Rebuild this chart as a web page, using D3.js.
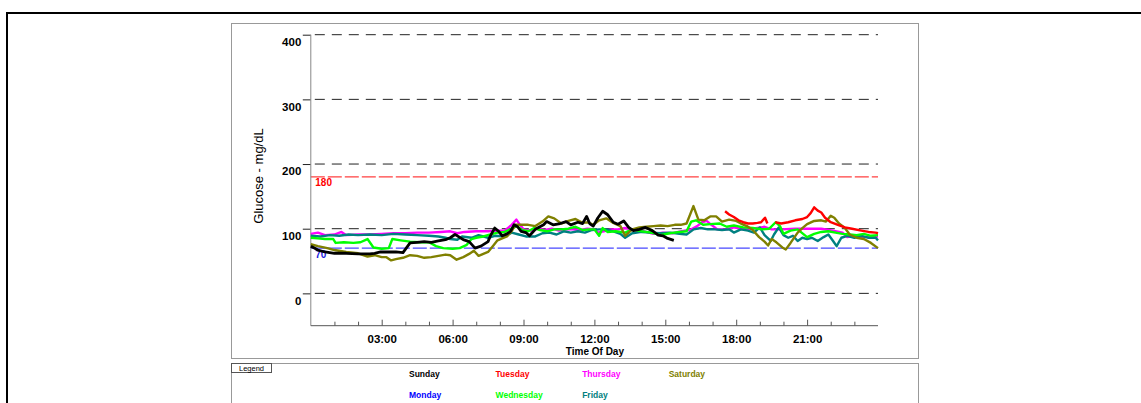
<!DOCTYPE html>
<html>
<head>
<meta charset="utf-8">
<script src="https://cdn.jsdelivr.net/npm/d3@7"></script>
<style>
  body { margin: 0; background: #fff; }
  svg { display: block; }
  text { font-family: "Liberation Sans", Arial, Helvetica, sans-serif; }
</style>
</head>
<body>
<svg id="chart" width="1141" height="403"></svg>
<script>
// ---- Data: glucose readings per weekday, [hour of day, mg/dL] ----
const dayNames  = ["Sunday", "Monday", "Tuesday", "Wednesday", "Thursday", "Friday", "Saturday"];
const dayColors = ["#000000", "#0000ff", "#ff0000", "#00ff00", "#ff00ff", "#008080", "#808000"];
const hourTicks = [3, 6, 9, 12, 15, 18, 21];
const glucoseTicks = [0, 100, 200, 300, 400];
const targetHigh = 180;
const targetLow = 70;

const sunday = [[0.0,73],[0.15,70],[0.3,67],[0.6,64],[1.0,62],[1.5,62],[2.0,61],[2.5,61],[2.7,62],[2.95,64],[3.3,64],[3.6,64],[3.9,63],[4.2,78],[4.5,79],[4.8,80],[5.1,79],[5.4,81],[5.7,83],[5.9,86],[6.1,91],[6.2,89],[6.45,83],[6.7,80],[6.95,70],[7.2,73],[7.5,80],[7.6,89],[7.78,101],[7.95,96],[8.1,89],[8.3,92],[8.45,96],[8.6,106],[8.75,103],[8.9,96],[9.1,94],[9.25,89],[9.5,99],[9.85,106],[9.98,111],[10.25,106],[10.55,108],[10.8,111],[11.0,106],[11.3,110],[11.5,108],[11.67,119],[11.8,108],[11.95,104],[12.15,117],[12.35,127],[12.55,122],[12.8,110],[13.0,107],[13.24,112],[13.45,102],[13.65,97],[13.9,99],[14.16,102],[14.45,97],[14.7,90],[14.9,89],[15.1,85],[15.36,82]];
const monday = [];
const tuesday = [[17.53,127],[17.7,122],[17.9,118],[18.1,113],[18.3,110],[18.5,108],[18.7,108],[18.9,109],[19.05,110],[19.22,117],[19.32,108],[19.45,null],[19.65,110],[19.9,108],[20.2,110],[20.5,113],[20.8,115],[21.0,118],[21.15,124],[21.3,133],[21.45,128],[21.6,125],[21.76,117],[22.0,110],[22.3,106],[22.6,102],[22.9,100],[23.3,97],[23.6,95],[23.9,94],[24.0,93]];
const wednesday = [[0.0,86],[0.3,85],[0.6,84],[0.95,84],[1.05,78],[1.4,79],[1.8,78],[2.1,79],[2.4,84],[2.65,71],[3.0,69],[3.3,70],[3.45,84],[3.8,82],[4.2,80],[4.6,79],[5.0,79],[5.3,73],[5.6,70],[6.0,69],[6.3,70],[6.6,75],[6.8,84],[7.0,86],[7.3,88],[7.6,91],[7.9,94],[8.2,95],[8.5,100],[8.7,104],[8.95,98],[9.2,96],[9.45,101],[9.7,98],[10.0,96],[10.3,99],[10.6,99],[10.9,100],[11.2,103],[11.5,98],[11.8,99],[12.0,99],[12.2,89],[12.35,101],[12.55,95],[12.9,96],[13.3,94],[13.6,99],[14.0,96],[14.4,94],[14.8,90],[15.2,93],[15.6,95],[15.9,96],[16.1,111],[16.3,113],[16.6,106],[16.9,107],[17.3,108],[17.6,103],[17.9,105],[18.3,102],[18.7,101],[19.1,99],[19.4,100],[19.67,110],[19.85,104],[20.0,92],[20.3,97],[20.6,99],[21.0,87],[21.3,92],[21.6,95],[21.9,96],[22.2,94],[22.5,92],[22.8,91],[23.1,90],[23.4,92],[23.7,89],[24.0,90]];
const thursday = [[0.0,92],[0.3,94],[0.6,90],[1.0,91],[1.3,95],[1.5,90],[2.0,91],[2.5,91],[3.0,92],[3.5,93],[4.0,93],[4.5,94],[5.0,94],[5.5,95],[5.9,96],[6.2,93],[6.5,95],[7.0,96],[7.5,96],[7.9,97],[8.2,97],[8.5,106],[8.7,114],[8.85,106],[9.0,99],[9.3,97],[9.6,100],[9.9,98],[10.2,100],[10.5,97],[10.8,99],[11.1,99],[11.4,98],[11.7,100],[12.0,99],[12.15,94],[12.4,96],[12.7,99],[13.0,99],[13.3,101],[13.6,99],[14.0,97],[14.5,92],[14.9,94],[15.3,93],[15.7,96],[16.1,99],[16.35,104],[16.55,110],[16.75,112],[16.95,106],[17.2,99],[17.6,99],[17.9,102],[18.3,99],[18.7,100],[19.2,103],[19.5,99],[19.9,99],[20.5,100],[21.0,100],[21.6,100],[22.1,97],[22.5,94],[22.7,87],[23.0,89],[23.4,87],[24.0,88]];
const friday = [[0.0,89],[0.4,88],[0.8,90],[1.2,89],[1.6,91],[2.0,90],[2.5,91],[3.0,90],[3.5,92],[4.0,91],[4.5,90],[5.0,89],[5.4,88],[5.7,86],[5.9,84],[6.2,83],[6.4,88],[6.8,86],[7.1,90],[7.5,86],[7.8,89],[8.2,88],[8.5,94],[8.8,91],[9.1,88],[9.5,88],[9.8,93],[10.1,94],[10.4,91],[10.7,96],[11.0,94],[11.3,96],[11.6,94],[11.9,98],[12.2,99],[12.5,99],[12.8,96],[13.1,92],[13.3,86],[13.6,93],[14.0,95],[14.4,94],[14.8,93],[15.2,94],[15.6,92],[15.9,91],[16.2,99],[16.5,101],[16.8,99],[17.1,99],[17.4,98],[17.7,99],[17.9,94],[18.2,99],[18.5,97],[18.75,94],[19.0,102],[19.2,90],[19.46,81],[19.6,91],[19.8,102],[20.0,90],[20.2,86],[20.4,89],[20.6,81],[20.8,86],[21.0,84],[21.2,86],[21.45,81],[21.7,87],[21.9,91],[22.1,81],[22.25,73],[22.45,86],[22.7,89],[23.0,86],[23.3,89],[23.6,86],[23.9,86],[24.0,82]];
const saturday = [[0.0,76],[0.3,73],[0.7,70],[1.0,67],[1.5,64],[2.0,62],[2.4,57],[2.7,59],[3.0,56],[3.2,56],[3.4,51],[3.6,53],[3.9,55],[4.2,59],[4.5,58],[4.8,55],[5.1,56],[5.4,58],[5.7,60],[5.9,59],[6.17,52],[6.45,56],[6.7,61],[6.9,66],[7.1,58],[7.3,61],[7.5,64],[7.7,73],[7.9,82],[8.1,85],[8.3,88],[8.5,96],[8.65,106],[8.9,106],[9.2,106],[9.5,104],[9.8,111],[10.05,119],[10.3,116],[10.6,108],[10.9,112],[11.2,115],[11.5,109],[11.75,110],[11.95,106],[12.2,113],[12.5,116],[12.8,109],[13.1,104],[13.3,89],[13.6,99],[13.9,102],[14.2,103],[14.5,104],[14.8,105],[15.1,104],[15.4,106],[15.65,106],[15.9,108],[16.19,135],[16.4,114],[16.65,113],[16.9,119],[17.15,119],[17.4,111],[17.7,114],[18.0,112],[18.2,108],[18.45,104],[18.7,98],[18.97,87],[19.2,80],[19.35,74],[19.5,84],[19.7,79],[19.95,71],[20.1,68],[20.3,78],[20.6,94],[20.8,101],[21.0,107],[21.3,112],[21.6,113],[21.8,111],[22.0,120],[22.15,117],[22.35,108],[22.6,101],[22.8,91],[23.1,86],[23.4,84],[23.7,78],[24.0,70]];

const readingsByDay = [sunday, monday, tuesday, wednesday, thursday, friday, saturday];
// Drawing order: later series sit on top
const drawOrder = [4, 5, 3, 6, 1, 2, 0];

const svg = d3.select("#chart");

// Outer page frame
svg.append("rect")
  .attr("x", 7).attr("y", 13).attr("width", 1160).attr("height", 420)
  .attr("fill", "none").attr("stroke", "#000").attr("stroke-width", 2);

// Chart panel
svg.append("rect")
  .attr("x", 231.5).attr("y", 23.5).attr("width", 687).attr("height", 335)
  .attr("fill", "none").attr("stroke", "#999").attr("stroke-width", 1);

// Scales
const x = d3.scaleLinear().domain([0, 24]).range([310.8, 878]);
const y = d3.scaleLinear().domain([-50, 400]).range([325.7, 34.7]);

// Horizontal dashed grid lines
svg.append("g").selectAll("line")
  .data(glucoseTicks)
  .join("line")
  .attr("x1", x(0)).attr("x2", x(24))
  .attr("y1", d => y(d)).attr("y2", d => y(d))
  .attr("stroke", "#222").attr("stroke-width", 1)
  .attr("stroke-dasharray", "10,7")
  .attr("stroke-dashoffset", -4);

// Target range lines
const targets = [
  { value: targetHigh, color: "#ff4040", label: "180", labelColor: "#ff0000" },
  { value: targetLow,  color: "#4848ff", label: "70",  labelColor: "#2020e0" }
];
svg.append("g").selectAll("line")
  .data(targets)
  .join("line")
  .attr("x1", x(0)).attr("x2", x(24))
  .attr("y1", d => y(d.value)).attr("y2", d => y(d.value))
  .attr("stroke", d => d.color).attr("stroke-width", 1.2)
  .attr("stroke-dasharray", "14,3");
svg.append("g").selectAll("text")
  .data(targets)
  .join("text")
  .attr("x", x(0) + 4.5)
  .attr("y", d => y(d.value) + 9.4)
  .attr("fill", d => d.labelColor)
  .attr("font-size", "10px")
  .attr("font-weight", "bold")
  .text(d => d.label);

// Y axis
const yAxis = svg.append("g")
  .attr("transform", `translate(${x(0)},0)`)
  .call(d3.axisLeft(y).tickValues(glucoseTicks).tickSize(8).tickPadding(1.5));
yAxis.select(".domain").remove();
yAxis.selectAll(".tick line").attr("stroke", "#222");
yAxis.selectAll(".tick text")
  .attr("font-size", "11.5px").attr("font-weight", "bold").attr("fill", "#000")
  .attr("font-family", "'Liberation Sans', Arial, Helvetica, sans-serif")
  .attr("dy", "0.32em")
  .attr("y", 7);
svg.append("line")
  .attr("x1", x(0)).attr("x2", x(0))
  .attr("y1", y(400)).attr("y2", y(-50))
  .attr("stroke", "#888").attr("stroke-width", 1);

// X axis: hourly minor ticks and labelled 3-hour ticks, pointing into the plot
const minorHours = d3.range(1, 24).filter(h => h % 3 !== 0);
const xMinor = svg.append("g")
  .attr("transform", `translate(0,${y(-50)})`)
  .call(d3.axisBottom(x).tickValues(minorHours).tickSize(-4).tickFormat(""));
xMinor.select(".domain").remove();
xMinor.selectAll(".tick line").attr("stroke", "#555");

const fmtHour = h => String(h).padStart(2, "0") + ":00";
const xAxis = svg.append("g")
  .attr("transform", `translate(0,${y(-50)})`)
  .call(d3.axisBottom(x).tickValues(hourTicks).tickSize(-6).tickPadding(9.4).tickFormat(fmtHour));
xAxis.select(".domain").remove();
xAxis.selectAll(".tick line").attr("stroke", "#555");
xAxis.selectAll(".tick text")
  .attr("font-size", "11.5px").attr("font-weight", "bold").attr("fill", "#000")
  .attr("font-family", "'Liberation Sans', Arial, Helvetica, sans-serif");
svg.append("line")
  .attr("x1", x(0)).attr("x2", x(24))
  .attr("y1", y(-50)).attr("y2", y(-50))
  .attr("stroke", "#555").attr("stroke-width", 1);

// Axis titles
svg.append("text")
  .attr("x", (x(0) + x(24)) / 2 + 0.5).attr("y", 354.5)
  .attr("text-anchor", "middle")
  .attr("font-size", "10px").attr("font-weight", "bold")
  .text("Time Of Day");
svg.append("text")
  .attr("transform", "translate(263,176) rotate(-90)")
  .attr("text-anchor", "middle")
  .attr("font-size", "13px")
  .text("Glucose - mg/dL");

// Glucose traces
const line = d3.line()
  .defined(d => d[1] !== null)
  .x(d => x(d[0]))
  .y(d => y(d[1]));
svg.append("g").selectAll("path")
  .data(drawOrder)
  .join("path")
  .attr("d", i => line(readingsByDay[i]))
  .attr("fill", "none")
  .attr("stroke", i => dayColors[i])
  .attr("stroke-width", i => i === 0 ? 2.8 : 2.4)
  .attr("stroke-linejoin", "round");

// Legend panel
svg.append("rect")
  .attr("x", 231.5).attr("y", 363.5).attr("width", 687).attr("height", 60)
  .attr("fill", "none").attr("stroke", "#999").attr("stroke-width", 1);
svg.append("rect")
  .attr("x", 231.5).attr("y", 363.5).attr("width", 40).attr("height", 9)
  .attr("fill", "none").attr("stroke", "#555").attr("stroke-width", 1);
svg.append("text")
  .attr("x", 251.5).attr("y", 370.6)
  .attr("text-anchor", "middle")
  .attr("font-size", "7.5px")
  .text("Legend");

const legendX = d3.scaleLinear().domain([0, 3]).range([409, 668.7]);
const legendY = d3.scaleLinear().domain([0, 1]).range([376.5, 398]);
svg.append("g").selectAll("text")
  .data(dayNames)
  .join("text")
  .attr("x", (d, i) => legendX(Math.floor(i / 2)))
  .attr("y", (d, i) => legendY(i % 2))
  .attr("fill", (d, i) => dayColors[i])
  .attr("font-size", "8.5px").attr("font-weight", "bold")
  .text(d => d);
</script>
</body>
</html>
